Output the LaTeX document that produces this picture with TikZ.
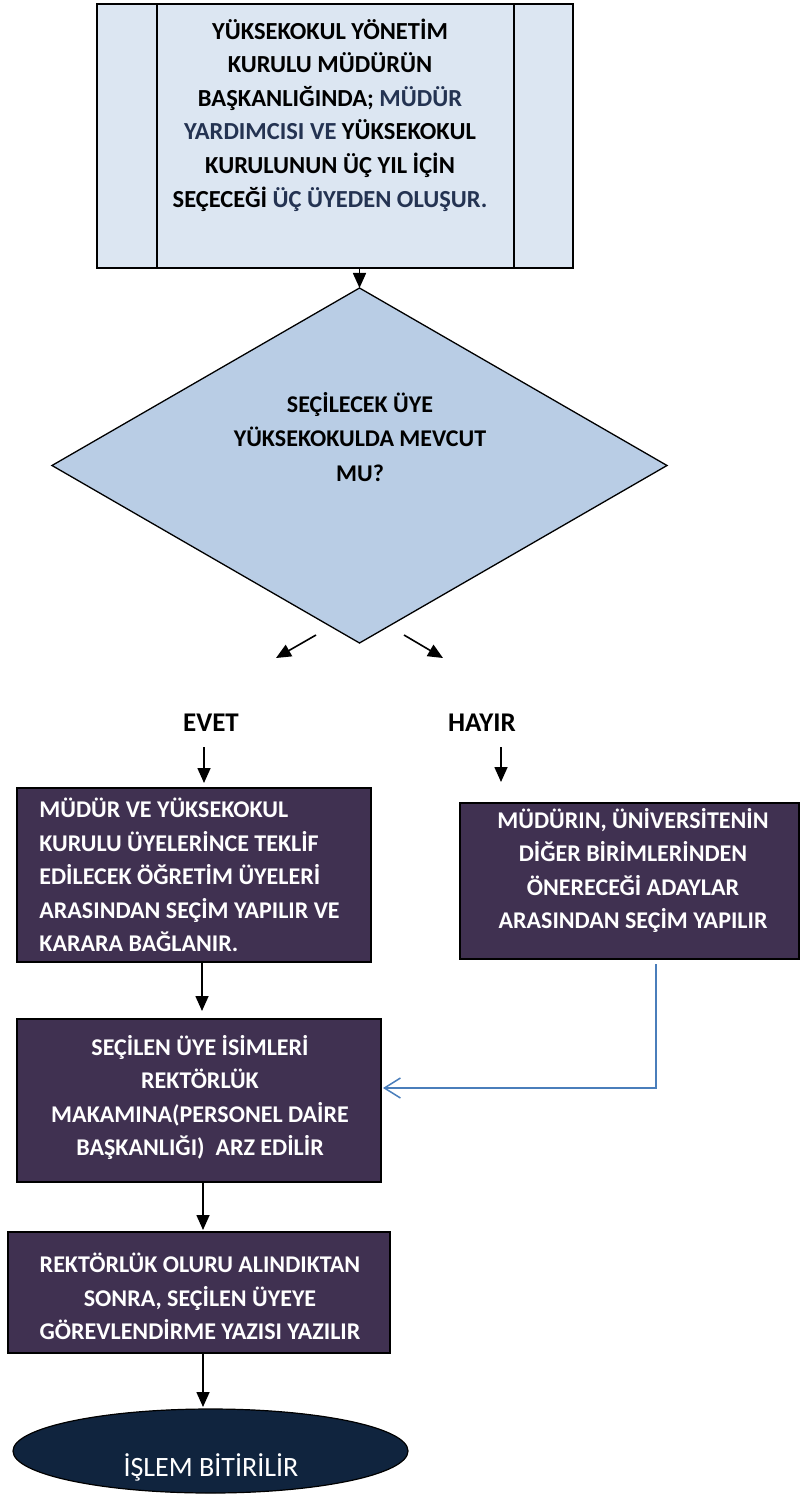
\documentclass[tikz,border=0pt]{standalone}
\usepackage{fontspec}
\setmainfont{Carlito}
\usetikzlibrary{shapes.geometric,arrows.meta}
\definecolor{topfill}{HTML}{DCE6F2}
\definecolor{diafill}{HTML}{B9CDE5}
\definecolor{purp}{HTML}{403151}
\definecolor{navy}{HTML}{10243E}
\definecolor{dk}{HTML}{243352}
\definecolor{conn}{HTML}{4A7EBB}
\begin{document}
\begin{tikzpicture}[x=1pt,y=-1pt,
  box/.style={draw=black, line width=1.6pt, inner sep=0pt, outer sep=0pt},
  pbox/.style={box, fill=purp},
  txt/.style={font=\bfseries\fontsize{24}{33.6}\selectfont, align=center, inner sep=0pt},
  wtxt/.style={txt, text=white},
  arr/.style={line width=1.6pt, -{Triangle[length=15pt,width=13pt]}},
]
\useasboundingbox (0,0) rectangle (800,1495);

% top predefined process
\node[box, fill=topfill, minimum width=476pt, minimum height=264pt] (top) at (335,136) {};
\draw[line width=1.6pt] ([xshift=60pt]top.north west) -- ([xshift=60pt]top.south west);
\draw[line width=1.6pt] ([xshift=-59pt]top.north east) -- ([xshift=-59pt]top.south east);
\node[txt, font=\bfseries\fontsize{24.5}{33.6}\selectfont] (toptext) at (330,115) {YÜKSEKOKUL YÖNETİM\\KURULU MÜDÜRÜN\\BAŞKANLIĞINDA; {\color{dk}MÜDÜR}\\{\color{dk}YARDIMCISI VE} YÜKSEKOKUL\\KURULUNUN ÜÇ YIL İÇİN\\SEÇECEĞİ {\color{dk}ÜÇ ÜYEDEN OLUŞUR.}};

% decision
\node[draw=black, line width=1.3pt, fill=diafill, diamond, minimum width=615pt, minimum height=355pt, inner sep=0pt, outer sep=0pt] (dia) at (359.5,465.5) {};
\node[txt, font=\bfseries\fontsize{24}{34.5}\selectfont] (diatext) at (360,437) {SEÇİLECEK ÜYE\\YÜKSEKOKULDA MEVCUT\\MU?};
\draw[arr] (dia.north |- top.south) -- (dia.north);

\coordinate (la1) at (316,635);
\coordinate (la2) at (276,658);
\coordinate (ra1) at (404,635);
\coordinate (ra2) at (443,658);
\draw[arr] (la1) -- (la2);
\draw[arr] (ra1) -- (ra2);

\node[txt, font=\bfseries\fontsize{27}{30}\selectfont] (evet) at (211,723) {EVET};
\node[txt, font=\bfseries\fontsize{27}{30}\selectfont] (hayir) at (482,723) {HAYIR};

% left box
\node[pbox, minimum width=354pt, minimum height=174pt] (lbox) at (194,875) {};
\node[wtxt, align=left] (ltext) at (189.5,875) {MÜDÜR VE YÜKSEKOKUL\\KURULU ÜYELERİNCE TEKLİF\\EDİLECEK ÖĞRETİM ÜYELERİ\\ARASINDAN SEÇİM YAPILIR VE\\KARARA BAĞLANIR.};
\draw[arr] ([xshift=10pt,yshift=41pt]lbox.north) -- ([xshift=10pt,yshift=5pt]lbox.north);

% right box
\node[pbox, minimum width=339pt, minimum height=156pt] (rbox) at (629.5,881) {};
\node[wtxt] (rtext) at (633,870.5) {MÜDÜRIN, ÜNİVERSİTENİN\\DİĞER BİRİMLERİNDEN\\ÖNERECEĞİ ADAYLAR\\ARASINDAN SEÇİM YAPILIR};
\draw[arr] ([xshift=-128.5pt,yshift=56pt]rbox.north) -- ([xshift=-128.5pt,yshift=21pt]rbox.north);

% middle box
\node[pbox, minimum width=364pt, minimum height=163pt] (mbox) at (199,1100.5) {};
\node[wtxt] (mtext) at (200,1097.5) {SEÇİLEN ÜYE İSİMLERİ\\REKTÖRLÜK\\MAKAMINA(PERSONEL DAİRE\\BAŞKANLIĞI)\ \ ARZ EDİLİR};
\draw[arr] ([xshift=8pt]lbox.south) -- ([xshift=3pt,yshift=8pt]mbox.north);
\draw[conn, line width=1.5pt, -{Straight Barb[length=16pt,width=20pt]}] ([xshift=26.5pt,yshift=-5pt]rbox.south) |- ([xshift=2pt,yshift=12.5pt]mbox.east);

% bottom box
\node[pbox, minimum width=382pt, minimum height=121pt] (bbox) at (199,1292.5) {};
\node[wtxt] (btext) at (200,1296.5) {REKTÖRLÜK OLURU ALINDIKTAN\\SONRA, SEÇİLEN ÜYEYE\\GÖREVLENDİRME YAZISI YAZILIR};
\draw[arr] ([xshift=4pt]mbox.south) -- ([xshift=4pt,yshift=2pt]bbox.north);

% terminator
\node[ellipse, draw=black, line width=1.2pt, fill=navy, minimum width=395pt, minimum height=84pt, inner sep=0pt, outer sep=0pt] (endn) at (210.5,1451) {};
\node[text=white, inner sep=0pt, font=\fontsize{28}{30}\selectfont] (endtext) at (211,1467) {İŞLEM BİTİRİLİR};
\draw[arr] ([xshift=4pt]bbox.south) -- ([xshift=4pt,yshift=2pt]bbox.south |- endn.north);
\end{tikzpicture}
\end{document}
